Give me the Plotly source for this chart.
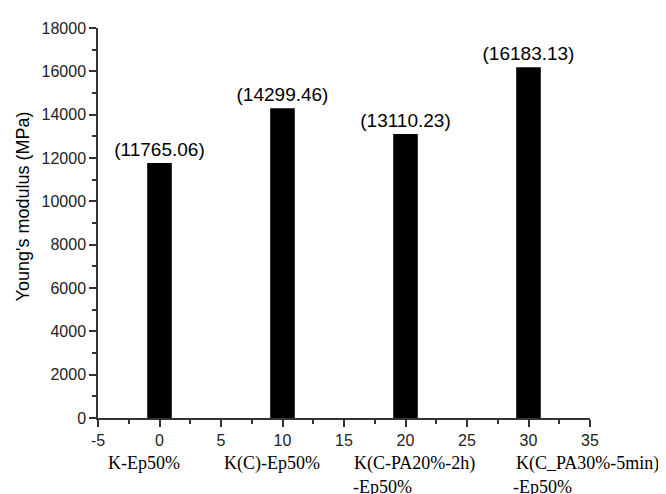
import plotly.graph_objects as go

x_pos = [0, 10, 20, 30]
modulus = [11765.06, 14299.46, 13110.23, 16183.13]
cat_line1 = ["K-Ep50%", "K(C)-Ep50%", "K(C-PA20%-2h)", "K(C_PA30%-5min)"]
cat_line2 = ["", "", "-Ep50%", "-Ep50%"]
cat_x1 = [-4.35, 5.08, 15.65, 28.8]
cat_x2 = [None, None, 15.6, 28.55]
x_ticks = [-5, 0, 5, 10, 15, 20, 25, 30, 35]
y_ticks = [0, 2000, 4000, 6000, 8000, 10000, 12000, 14000, 16000, 18000]

fig = go.Figure()
fig.add_trace(go.Bar(
    x=x_pos, y=modulus, width=2,
    marker=dict(color="black", line=dict(width=0)),
    text=[f"({v:.2f})" for v in modulus],
    textposition="outside",
    constraintext="none",
    textfont=dict(family="Liberation Sans, Arial", size=19, color="black"),
    cliponaxis=False,
))

ann = []
for t, xx in zip(cat_line1, cat_x1):
    ann.append(dict(x=xx, y=-0.116, xref="x", yref="paper", text=t, showarrow=False,
                    xanchor="left", yanchor="middle",
                    font=dict(family="Liberation Serif, Times New Roman", size=18, color="black")))
for t, xx in zip(cat_line2, cat_x2):
    if t:
        ann.append(dict(x=xx, y=-0.177, xref="x", yref="paper", text=t, showarrow=False,
                        xanchor="left", yanchor="middle",
                        font=dict(family="Liberation Serif, Times New Roman", size=18, color="black")))
ann.append(dict(x=-0.152, y=0.543, xref="paper", yref="paper", text="Young's modulus (MPa)",
                showarrow=False, textangle=-90, xanchor="center", yanchor="middle",
                font=dict(family="Liberation Sans, Arial", size=18, color="black")))

fig.update_layout(
    width=666, height=494,
    margin=dict(l=90, r=84, t=14, b=84),
    paper_bgcolor="white", plot_bgcolor="white",
    showlegend=False,
    annotations=ann,
    font=dict(family="Liberation Sans, Arial", size=16, color="#222"),
)
fig.update_xaxes(
    range=[-5, 35], tickmode="array", tickvals=x_ticks, ticktext=[str(v) for v in x_ticks],
    showgrid=False, zeroline=False, showline=True, linecolor="#333", linewidth=1.5,
    ticks="outside", ticklen=7, tickwidth=1.5, tickcolor="#333",
    minor=dict(ticks="outside", ticklen=4, dtick=2.5, tick0=-5, tickcolor="#333", tickwidth=1.5),
    tickfont=dict(size=16, family="Liberation Sans, Arial", color="#222"),
)
fig.update_yaxes(
    range=[0, 18000], tickmode="array", tickvals=y_ticks, ticktext=[str(v) for v in y_ticks],
    showgrid=False, zeroline=False, showline=True, linecolor="#333", linewidth=1.5,
    ticks="outside", ticklen=7, tickwidth=1.5, tickcolor="#333",
    minor=dict(ticks="outside", ticklen=4, dtick=1000, tick0=0, tickcolor="#333", tickwidth=1.5),
    tickfont=dict(size=16, family="Liberation Sans, Arial", color="#222"),
)
fig.write_html("out.html")
